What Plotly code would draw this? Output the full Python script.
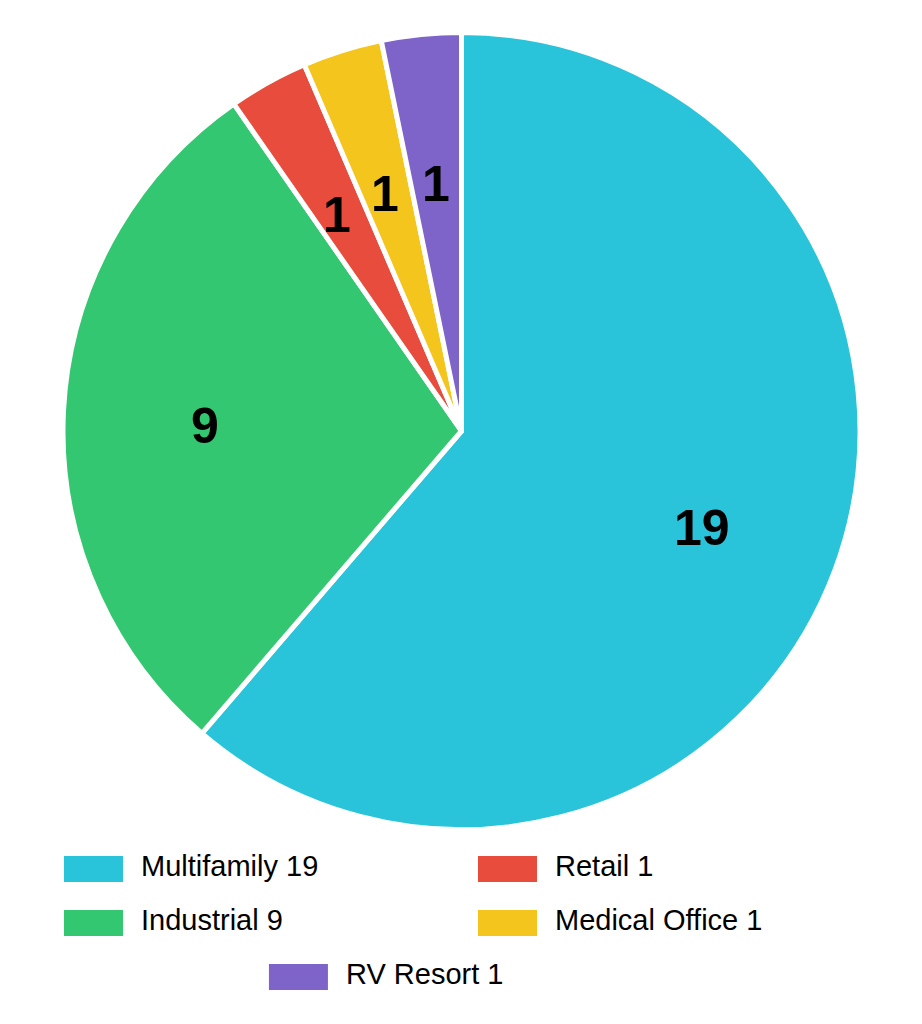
import math
import plotly.graph_objects as go

W, H = 922, 1024

# Data
categories = ["Multifamily", "Industrial", "Retail", "Medical Office", "RV Resort"]
values = [19, 9, 1, 1, 1]
colors = ["#29C4D9", "#34C771", "#E74C3C", "#F4C51D", "#7E63C9"]

# legend layout (grid slot per category: column, row)
legend_slots = [(0, 0), (0, 1), (1, 0), (1, 1), (0.495, 2)]

# geometry (pixels, in window coordinates)
cx, cy, R_vis, line_w = 461.5, 431.0, 396.0, 5
R = R_vis + line_w / 2
label_r = 0.648 * R_vis
OFF = 8  # default page body margin

def px(x):
    return (x - OFF) / W

def py(y):
    return 1 - (y - OFF) / H

fig = go.Figure(go.Pie(
    labels=categories,
    values=values,
    marker=dict(colors=colors, line=dict(color="white", width=line_w)),
    sort=False,
    direction="clockwise",
    rotation=0,
    textinfo="none",
    hoverinfo="label+value",
    showlegend=False,
    domain=dict(x=[px(cx - R), px(cx + R)], y=[py(cy + R), py(cy - R)]),
))

annotations = []
shapes = []
total = sum(values)
cum = 0
for cat, v, col, slot in zip(categories, values, colors, legend_slots):
    mid = (cum + v / 2) / total * 2 * math.pi
    cum += v
    lx = cx + label_r * math.sin(mid)
    ly = cy - label_r * math.cos(mid)
    annotations.append(dict(
        x=px(lx), y=py(ly), xref="paper", yref="paper",
        text=f"<b>{v}</b>", showarrow=False, yshift=-8,
        font=dict(family="Arial, Liberation Sans, sans-serif", size=50, color="black"),
        xanchor="center", yanchor="middle",
    ))
    # legend entry
    col_i, row_i = slot
    sx0 = 64 + col_i * 414
    sy_c = 869 + row_i * 54
    shapes.append(dict(
        type="rect", xref="paper", yref="paper",
        x0=px(sx0), x1=px(sx0 + 59), y0=py(sy_c + 13), y1=py(sy_c - 13),
        fillcolor=col, line=dict(width=0),
    ))
    annotations.append(dict(
        x=px(sx0 + 75), y=py(sy_c - 3), xref="paper", yref="paper",
        text=f"{cat} {v}", showarrow=False,
        font=dict(family="Arial, Liberation Sans, sans-serif", size=29, color="black"),
        xanchor="left", yanchor="middle",
    ))

fig.update_layout(
    width=W, height=H,
    margin=dict(l=0, r=0, t=0, b=0),
    paper_bgcolor="white", plot_bgcolor="white",
    annotations=annotations,
    shapes=shapes,
)

fig.write_html("out.html")
